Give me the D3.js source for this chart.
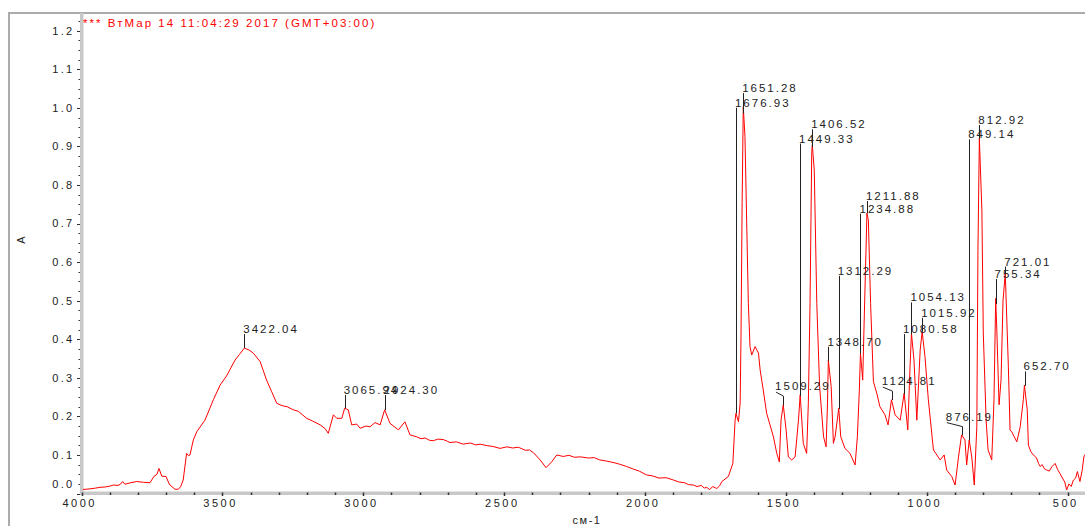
<!DOCTYPE html>
<html><head><meta charset="utf-8">
<script src="https://cdn.jsdelivr.net/npm/d3@7"></script>
<style>
html,body{margin:0;padding:0;background:#fff;}
svg{display:block;font-family:"Liberation Sans",Arial,sans-serif;}
</style></head><body>
<svg id="chart" width="1085" height="526"></svg>
<script>
// ---- data ----
const titleText = "*** ВтМар 14 11:04:29 2017 (GMT+03:00)";
const xAxisTitle = "см-1";
const yAxisTitle = "A";

const wavenumbers = [4000,3970,3950,3934,3915,3900,3887,3870,3862,3854,3846,3825,3804,3780,3757,3743,3732,3725,3715,3700,3690,3686,3668,3656,3648,3639,3627,3620,3615,3603,3591,3562,3532,3508,3485,3455,3440,3422,3405,3390,3366,3343,3325,3307,3295,3284,3270,3248,3230,3201,3180,3153,3135,3124,3106,3094,3076,3066,3053,3041,3023,3011,2990,2976,2958,2940,2924,2905,2875,2852,2834,2810,2795,2780,2765,2751,2735,2716,2700,2692,2670,2645,2620,2600,2585,2560,2540,2514,2490,2470,2449,2425,2410,2396,2372,2351,2331,2313,2290,2270,2250,2230,2200,2180,2160,2136,2110,2090,2065,2040,2020,1994,1975,1950,1925,1899,1880,1860,1845,1828,1815,1800,1790,1781,1770,1760,1745,1735,1727,1704,1688,1680,1677,1668,1662,1659,1655,1651,1645,1639,1633,1627,1621,1609,1597,1591,1580,1568,1556,1544,1532,1523,1517,1509,1499,1491,1479,1467,1455,1449,1438,1426,1420,1414,1408,1406,1399,1390,1380,1366,1357,1352,1349,1339,1331,1325,1312,1305,1290,1272,1254,1246,1239,1235,1227,1222,1212,1207,1199,1189,1177,1166,1148,1137,1125,1112,1094,1080,1067,1059,1054,1045,1035,1023,1016,1006,994,976,952,938,929,911,899,887,876,864,858,849,840,831,822,818,813,804,799,789,782,769,761,755,751,743,736,729,721,710,704,698,680,668,657,653,643,639,630,621,610,603,597,590,582,574,565,555,544,535,527,518,510,503,495,487,479,471,465,456,448,442,430,400];
const absorbance = [0.010,0.012,0.014,0.016,0.017,0.019,0.022,0.021,0.024,0.031,0.024,0.028,0.031,0.029,0.028,0.044,0.050,0.065,0.045,0.044,0.027,0.022,0.011,0.011,0.018,0.035,0.104,0.098,0.100,0.139,0.160,0.190,0.243,0.281,0.305,0.346,0.360,0.377,0.372,0.364,0.342,0.294,0.264,0.234,0.230,0.227,0.225,0.217,0.213,0.195,0.188,0.178,0.168,0.156,0.204,0.195,0.195,0.221,0.217,0.178,0.180,0.169,0.175,0.173,0.184,0.178,0.217,0.182,0.165,0.186,0.152,0.147,0.142,0.144,0.138,0.137,0.141,0.140,0.135,0.132,0.134,0.128,0.131,0.126,0.128,0.124,0.122,0.117,0.121,0.118,0.120,0.112,0.113,0.106,0.087,0.067,0.082,0.100,0.096,0.099,0.094,0.095,0.092,0.093,0.087,0.084,0.080,0.076,0.070,0.063,0.058,0.048,0.046,0.040,0.041,0.035,0.030,0.028,0.023,0.022,0.018,0.021,0.014,0.016,0.010,0.018,0.013,0.020,0.031,0.044,0.078,0.190,0.208,0.186,0.235,0.407,0.754,1.003,0.926,0.709,0.493,0.381,0.359,0.381,0.364,0.320,0.268,0.208,0.178,0.147,0.104,0.082,0.190,0.230,0.165,0.095,0.087,0.095,0.190,0.256,0.130,0.104,0.234,0.493,0.882,0.904,0.839,0.493,0.277,0.147,0.121,0.235,0.346,0.277,0.130,0.147,0.221,0.147,0.117,0.104,0.074,0.147,0.268,0.364,0.294,0.442,0.727,0.709,0.493,0.290,0.260,0.225,0.204,0.178,0.243,0.204,0.190,0.260,0.165,0.329,0.415,0.346,0.190,0.372,0.420,0.355,0.243,0.113,0.087,0.100,0.061,0.044,0.022,0.095,0.152,0.139,0.074,0.139,0.095,0.022,0.173,0.630,0.921,0.735,0.416,0.190,0.113,0.087,0.243,0.506,0.424,0.230,0.294,0.500,0.571,0.329,0.165,0.160,0.134,0.173,0.243,0.281,0.217,0.126,0.108,0.100,0.092,0.078,0.070,0.075,0.064,0.061,0.058,0.070,0.078,0.062,0.052,0.040,0.030,0.009,0.025,0.018,0.035,0.040,0.057,0.031,0.060,0.095,0.110,0.120];

const xTickValues = [4000,3500,3000,2500,2000,1500,1000,500];
const xTickLabels = ["4000","3500","3000","2500","2000","1500","1000","500"];
const yTickValues = [0.0,0.1,0.2,0.3,0.4,0.5,0.6,0.7,0.8,0.9,1.0,1.1,1.2];
const yTickLabels = ["0.0","0.1","0.2","0.3","0.4","0.5","0.6","0.7","0.8","0.9","1.0","1.1","1.2"];

const peakPositions = [3422.04,3065.94,2924.30,1676.93,1651.28,1509.29,1449.33,1406.52,1348.70,1312.29,1234.88,1211.88,1124.81,1080.58,1054.13,1015.92,876.19,849.14,812.92,755.34,721.01,652.70];
const peakLabels = ["3422.04","3065.94","2924.30","1676.93","1651.28","1509.29","1449.33","1406.52","1348.70","1312.29","1234.88","1211.88","1124.81","1080.58","1054.13","1015.92","876.19","849.14","812.92","755.34","721.01","652.70"];
// annotation layout: absorbance level of label baseline, and wavenumber of text start for leader labels
const labelLevels = [0.416,0.258,0.258,1.003,1.041,0.268,0.910,0.947,0.383,0.567,0.728,0.761,0.281,0.416,0.498,0.458,0.189,0.921,0.958,0.559,0.591,0.319];
const labelTextAt = [null,null,null,null,null,1538,null,null,null,null,null,null,1159,null,null,null,932,null,null,null,null,null];

// ---- layout ----
const svg = d3.select("#chart");
const x = d3.scaleLinear().domain([4000,400]).range([81.5,1095.7]);
const y = d3.scaleLinear().domain([0,1.246]).range([493.5,13]);
const pts = wavenumbers.map((w,i)=>({w, a:absorbance[i]}));
function valueAt(w){
  for(let i=0;i<pts.length-1;i++){
    const p=pts[i], q=pts[i+1];
    if(w<=p.w && w>=q.w){ const t=(p.w-w)/(p.w-q.w); return p.a+(q.a-p.a)*t; }
  }
  return 0;
}

// outer frame
svg.append("line").attr("x1",8).attr("x2",1085).attr("y1",13).attr("y2",13).attr("stroke","#ababab").attr("stroke-width",2);
svg.append("line").attr("x1",9).attr("x2",9).attr("y1",12).attr("y2",526).attr("stroke","#ababab").attr("stroke-width",2);

// axis bands
svg.append("rect").attr("x",80).attr("y",13).attr("width",3.5).attr("height",482).attr("fill","#c8c8c8");
svg.append("rect").attr("x",80).attr("y",491.5).attr("width",1005).attr("height",3.5).attr("fill","#c8c8c8");

// y ticks
const yMinor = d3.range(0,1.2251,0.025);
svg.append("g").selectAll("line").data(yMinor).join("line")
  .attr("x1",d=> (Math.abs(d*10-Math.round(d*10))<1e-6)?77:78.5).attr("x2",80)
  .attr("y1",d=>Math.round(y(d))+0.5).attr("y2",d=>Math.round(y(d))+0.5)
  .attr("stroke","#333").attr("stroke-width",1);
svg.append("g").selectAll("text").data(yTickValues).join("text")
  .attr("x",74.5).attr("y",(d,i)=> i===0 ? y(d)-9 : y(d)).attr("dy","0.35em")
  .attr("text-anchor","end").attr("font-size","11px").attr("letter-spacing","2.3px").attr("fill","#222")
  .text((d,i)=>yTickLabels[i]);

// x ticks
const xMinor = d3.range(4000,399,-100);
svg.append("g").selectAll("line").data(xMinor).join("line")
  .attr("x1",d=>Math.round(x(d))+0.5).attr("x2",d=>Math.round(x(d))+0.5)
  .attr("y1",492.5).attr("y2",d=> d%500===0?496:495)
  .attr("stroke","#333").attr("stroke-width",1.5);
svg.append("g").selectAll("text").data(xTickValues).join("text")
  .attr("x",d=>x(d)-3+1.2).attr("y",507)
  .attr("text-anchor","middle").attr("font-size","11px").attr("letter-spacing","2.5px").attr("fill","#222")
  .text((d,i)=>xTickLabels[i]);

// axis titles
svg.append("text").attr("x",587).attr("y",524).attr("text-anchor","middle")
  .attr("font-size","11px").attr("letter-spacing","1.5px").attr("fill","#222").text(xAxisTitle);
svg.append("text").attr("transform","translate(25,240) rotate(-90)").attr("text-anchor","middle")
  .attr("font-size","11px").attr("fill","#222").text(yAxisTitle);

// spectrum
svg.append("clipPath").attr("id","clip").append("rect").attr("x",83).attr("y",13).attr("width",1010).attr("height",482);
svg.append("path").datum(pts).attr("clip-path","url(#clip)")
  .attr("fill","none").attr("stroke","#ff0000").attr("stroke-width",1)
  .attr("d", d3.line().x(d=>x(d.w)).y(d=>y(d.a)));

// peak annotations
const ann = svg.append("g");
peakPositions.forEach((w,i)=>{
  const px = x(w), base = y(labelLevels[i]), peakY = y(valueAt(w));
  const tw = labelTextAt[i];
  let tx;
  if(tw===null){
    tx = px-1;
    ann.append("line").attr("x1",Math.round(px)+0.5).attr("x2",Math.round(px)+0.5)
      .attr("y1",base+1).attr("y2",peakY).attr("stroke","#222").attr("stroke-width",1);
  } else {
    tx = x(tw);
    ann.append("polyline").attr("points",[[tx+1,base+2],[Math.round(px)+0.5,base+6],[Math.round(px)+0.5,peakY]].join(" "))
      .attr("fill","none").attr("stroke","#222").attr("stroke-width",1);
  }
  ann.append("text").attr("x",tx).attr("y",base).attr("font-size","11.5px").attr("letter-spacing","2px")
    .attr("fill","#222").text(peakLabels[i]);
});

// title
svg.append("text").attr("x",83).attr("y",27).attr("font-size","11.5px").attr("letter-spacing","2.05px")
  .attr("fill","#ff0000").text(titleText);
</script>
</body></html>
